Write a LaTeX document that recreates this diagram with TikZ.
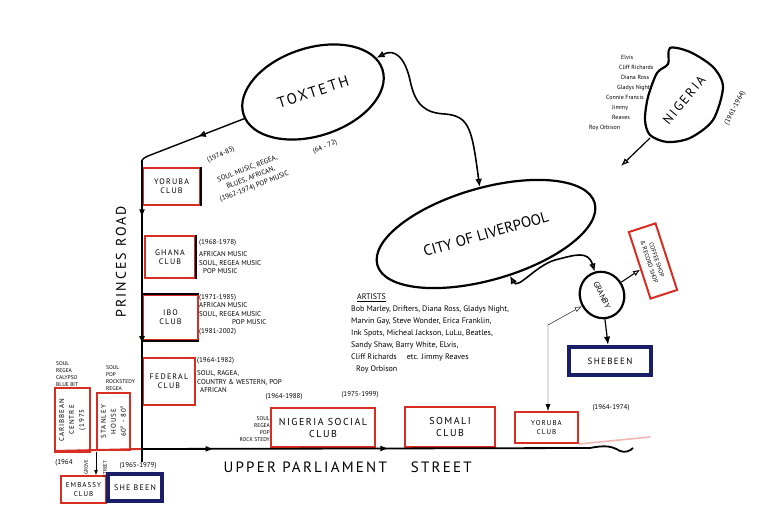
\documentclass[tikz,border=0pt]{standalone}
\usepackage{fontspec}
\setmainfont{PT Sans}
\newfontfamily\weit[LetterSpace=15]{PT Sans}
\usetikzlibrary{shapes.geometric}
\usetikzlibrary{arrows.meta}
\usetikzlibrary{decorations.markings}
\definecolor{rot}{RGB}{215,45,35}
\definecolor{marine}{RGB}{25,30,105}
\newcommand{\schrift}[2]{\fontsize{#1}{#2}\selectfont}
\tikzset{
  Gebiet/.style={draw, ellipse, line width=2.2pt, inner sep=0pt}, % für Stadtteile
  Club/.style={draw=rot, line width=2pt, inner sep=1pt, align=center, font=\weit\schrift{8}{9}},
  Bar/.style={draw=marine, line width=4pt, inner sep=1pt, align=center, font=\weit\schrift{8}{9}},
  Notiz/.style={inner sep=0pt, align=left, font=\schrift{7}{8.5}}, % für Jahreszahlen und Musik
  Weg/.style={line width=1.8pt},
  Mitte/.style={postaction={decorate}, decoration={markings,
    mark=at position #1 with {\arrow{Latex[open,length=8pt,width=7pt]}}}}
}

\begin{document}
\begin{tikzpicture}[x=1pt, y=-1pt,
>=Latex % Voreinstellung für Pfeilspitzen
]
\useasboundingbox (0,0) rectangle (768,529);

%Stadtteile
\node[Gebiet, minimum width=146pt, minimum height=88pt, rotate=18, font=\weit\schrift{15}{15}] (tox) at (313,92) {TOXTETH};
\node[Gebiet, minimum width=226pt, minimum height=92pt, rotate=16, font=\schrift{15}{15}] (liv) at (486,234) {CITY OF LIVERPOOL};
\node[Gebiet, minimum width=47pt, minimum height=44pt, rotate=-64, font=\schrift{8}{8}] (gran) at (602,295) {GRANBY};
\draw[line width=2.2pt] plot[smooth cycle] coordinates {(670,48) (690,52) (713,67) (723,87) (713,120) (690,138) (667,142) (650,135) (645,120) (648,97) (657,73) (668,64)};
\node[rotate=50, font=\weit\schrift{13}{13}] (nig) at (684,100) {NIGERIA};
\coordinate (nigS) at (650,138);
\coordinate (nigP) at (621,166);

%Clubs Princes Road
\node[Club, minimum width=57pt, minimum height=37pt] (yor1) at (171.5,186.5) {YORUBA\\CLUB};
\node[Club, minimum width=50pt, minimum height=42pt] (ghana) at (170,257) {GHANA\\CLUB};
\node[Club, minimum width=55pt, minimum height=45pt] (ibo) at (170.5,317.5) {IBO\\CLUB};
\node[Club, minimum width=52pt, minimum height=47pt] (fed) at (169,381.5) {FEDERAL\\CLUB};

%Clubs Upper Parliament Street
\node[Club, minimum width=104pt, minimum height=39pt, font=\weit\schrift{10}{12}] (nsc) at (323,427.5) {NIGERIA SOCIAL\\CLUB};
\node[Club, minimum width=90pt, minimum height=40pt, font=\weit\schrift{10}{12}] (som) at (450,427) {SOMALI\\CLUB};
\node[Club, minimum width=63pt, minimum height=31pt, font=\weit\schrift{7}{9}] (yor2) at (546.5,427.5) {YORUBA\\CLUB};

%links unten
\node[Club, rotate=90, minimum width=64pt, minimum height=35pt, font=\weit\schrift{7}{10}] (carib) at (72.5,420) {CARIBBEAN\\CENTRE\\(1975};
\node[Club, rotate=90, minimum width=57pt, minimum height=33pt, font=\weit\schrift{7}{10}] (stan) at (113.5,421.5) {STANLEY\\HOUSE\\60\textsuperscript{s} - 80\textsuperscript{s}};
\node[Club, minimum width=45pt, minimum height=27pt, font=\weit\schrift{7}{9}] (emb) at (83.5,489.5) {EMBASSY\\CLUB};
\node[Bar, minimum width=54pt, minimum height=27pt] (sheb1) at (135,487.5) {SHE BEEN};

%Granby
\node[Bar, minimum width=82pt, minimum height=28pt, font=\weit\schrift{9}{9}] (sheb2) at (610,361) {SHEBEEN};
\node[Club, rotate=-72, minimum width=70pt, minimum height=28pt, font=\schrift{6}{8}] (coffee) at (653,261) {COFFEE SHOP\\\& RECORD SHOP};

%Strassen
\coordinate (PRo) at (142,160);
\coordinate (PRu) at (142,462);
\coordinate (UPa) at (55,451);
\coordinate (UPl) at (142,449);
\coordinate (UPr) at (590,448);
\coordinate (UPe) at (633,448);
\coordinate (yorR) at (650,437);
\draw[rot, line width=2pt] (UPa) -- (UPl);
\draw[rot!35, line width=1.6pt] (yor2.south east) -- (yorR);
\draw[Weg] (yor1.north east) -- (yor1.south east);
\draw[Weg] (ghana.north east) -- (ghana.south east);
\draw[Weg] (ibo.north west) -- (ibo.north east);
\draw[Weg] (ibo.south west) -- (ibo.south east);
\draw[Weg, postaction={decorate}, decoration={markings,
  mark=at position 0.19 with {\arrow{Latex[length=8pt,width=6pt]}},
  mark=at position 0.61 with {\arrow{Latex[length=8pt,width=6pt]}}}] (PRo) -- (PRu);
\draw[Weg, postaction={decorate}, decoration={markings,
  mark=at position 0.16 with {\arrow{Latex[length=8pt,width=6pt]}},
  mark=at position 0.55 with {\arrow{Latex[length=8pt,width=6pt]}}}] (UPl) -- (UPr);
\draw[Weg] (UPr) .. controls (605,445) and (612,446) .. (620,451) .. controls (625,453) and (630,451) .. (UPe);

%Verbindungen
\coordinate (knick) at (148,156);
\draw[line width=1.4pt, Mitte=0.45] (tox) -- (knick) .. controls (144,158) .. (PRo);
\draw[line width=1.6pt, {Latex[open,length=8pt,width=7pt]}-{Latex[open,length=8pt,width=7pt]}]
  (tox) .. controls (395,48) and (405,58) .. (410,80) .. controls (415,105) and (425,113) .. (445,114)
  .. controls (470,116) and (472,130) .. (liv);
\draw[line width=1.6pt, {Latex[open,length=8pt,width=7pt]}-{Latex[open,length=8pt,width=7pt]}]
  (gran) .. controls (588,250) and (575,255) .. (555,260) .. controls (535,266) and (518,290) .. (liv);
\draw[line width=1pt, -{Latex[open,length=7pt,width=6pt]}] (gran) -- (coffee);
\draw[line width=1.2pt, ->] (gran) -- (sheb2);
\coordinate (artL) at (548,325);
\draw[thin, {Latex[open,length=7pt,width=5pt]}-{Latex[length=7pt,width=5pt]}] (gran) -- (artL) -- (artL |- yor2.north);
\draw[line width=1.2pt, -{Latex[open,length=8pt,width=6pt]}] (nigS) -- (nigP);
\coordinate (grove) at (96,452);
\draw[thin, ->] (grove) -- (grove |- emb.north);

%Beschriftung
\node[rotate=90, font=\weit\schrift{14}{14}] (prl) at (121,262) {PRINCES ROAD};
\node[anchor=west, font=\weit\schrift{15}{15}] (upl) at (220,467) {UPPER PARLIAMENT\hspace{24pt}STREET};
\node[Notiz, rotate=25] (n1) at (221,155) {(1974-85)};
\node[Notiz, rotate=21, align=center, font=\schrift{7}{9.5}] (n2) at (251,178) {SOUL MUSIC, REGEA,\\BLUES, AFRICAN,\\(1962-1974) POP MUSIC};
\node[Notiz, rotate=24] (n3) at (325,147) {(64 - 72)};
\node[Notiz, anchor=north west] (n4) at (199,239) {(1968-1978)\\[4pt]AFRICAN MUSIC\\SOUL, REGEA MUSIC\\\hspace*{4pt}POP MUSIC};
\node[Notiz, anchor=north west] (n5) at (199,294) {(1971-1985)\\AFRICAN MUSIC\\SOUL, REGEA MUSIC\\\hspace*{33pt}POP MUSIC\\(1981-2002)};
\node[Notiz, anchor=north west] (n6) at (197,357) {(1964-1982)\\[5pt]SOUL, RAGEA,\\COUNTRY \& WESTERN, POP\\\hspace*{3pt}AFRICAN};
\node[Notiz] (n7) at (284,397) {(1964-1988)};
\node[Notiz] (n8) at (360,395) {(1975-1999)};
\node[Notiz] (n9) at (611,408) {(1964-1974)};
\node[Notiz, align=right, anchor=east, font=\schrift{5.5}{7}] (n10) at (270,429) {SOUL\\REGEA\\POP\\ROCK STEDY};
\node[Notiz, anchor=south west, font=\schrift{5.5}{7}] (n11) at (56,387) {SOUL\\REGEA\\CALYPSO\\BLUE BIT};
\node[Notiz, anchor=south west, font=\schrift{5.5}{7}] (n12) at (106,391) {SOUL\\POP\\ROCKSTEDY\\REGEA};
\node[Notiz] (n13) at (64,463) {(1964};
\node[Notiz, rotate=90, font=\schrift{5}{5}] (n14) at (86,467) {GROVE};
\node[Notiz, rotate=90, font=\schrift{5}{5}] (n15) at (105,469) {STREET};
\node[Notiz] (n16) at (138,466) {(1965-1979)};
\node[Notiz, anchor=north west, font=\schrift{8}{12}] (art) at (351,294) {\hspace*{6pt}\underline{ARTISTS}\\Bob Marley, Drifters, Diana Ross, Gladys Night,\\Marvin Gay, Steve Wonder, Erica Franklin,\\Ink Spots, Micheal Jackson, LuLu, Beatles,\\Sandy Shaw, Barry White, ELvis,\\Cliff Richards\hspace{8pt} etc. Jimmy Reaves\\\hspace*{5pt}Roy Orbison};
\node[Notiz, anchor=north west, font=\schrift{6}{10}] (nigA) at (589,55) {\hspace*{32pt}Elvis\\\hspace*{30pt}Cliff Richards\\\hspace*{32pt}Diana Ross\\\hspace*{28pt}Gladys Night\\\hspace*{17pt}Connie Francis\\\hspace*{23pt}Jimmy\\\hspace*{23pt}Reaves\\Roy Orbison};
\node[Notiz, rotate=62] (nigD) at (735,108) {(1961-1964)};
\end{tikzpicture}
\end{document}
